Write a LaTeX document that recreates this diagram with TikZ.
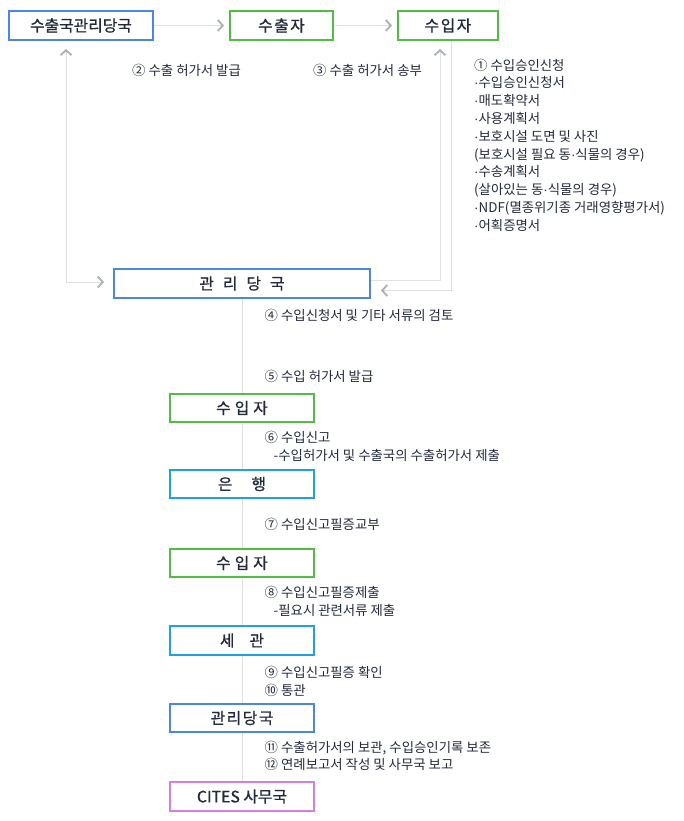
\documentclass[tikz,border=0pt]{standalone}
\usepackage{fontspec}
\setmainfont{Noto Sans CJK KR}
\newfontfamily\krh[FakeBold=0.8]{Noto Sans CJK KR}
\newfontfamily\latdot{Liberation Sans}
\newcommand{\md}{{\latdot ·}}
\usetikzlibrary{arrows.meta,calc}
\definecolor{bxblue}{RGB}{74,134,232}
\definecolor{bxgreen}{RGB}{80,190,65}
\definecolor{bxsky}{RGB}{30,160,235}
\definecolor{bxpurple}{RGB}{214,125,222}
\definecolor{lgray}{RGB}{224,224,224}
\definecolor{cgray}{RGB}{170,176,186}
\definecolor{txt}{RGB}{34,42,60}
\begin{document}
\begin{tikzpicture}[x=1pt,y=-1pt,
  box/.style={draw, line width=2pt, fill=white, inner sep=0pt,
    font=\krh\fontsize{15.8}{17}\selectfont, text=txt, minimum height=29pt},
  lbl/.style={anchor=base west, inner sep=0pt, font=\fontsize{13.4}{18}\selectfont, text=txt, align=left},
  conn/.style={draw=lgray, line width=1pt},
  chevtip/.tip={Straight Barb[length=5pt,width=11pt,line width=1.8pt,color=cgray]},
  chev/.style={-chevtip},
  chevboth/.style={chevtip-chevtip}
]
\useasboundingbox (0,0) rectangle (684,821);
\fill[white] (0,0) rectangle (684,821);

% top row
\node[box, draw=bxblue, minimum width=144pt] (A) at (81,25.5) {수출국관리당국};
\node[box, draw=bxgreen, minimum width=103pt] (B) at (281.5,25.5) {수\hspace{1.5pt}출\hspace{1.5pt}자};
\node[box, draw=bxgreen, minimum width=100pt] (C) at (448,25.5) {수\hspace{1.5pt}입\hspace{1.5pt}자};

% central column
\node[box, draw=bxblue, minimum width=256pt] (D) at (242,283.5) {관\hspace{9pt}리\hspace{9pt}당\hspace{9pt}국};
\node[box, draw=bxgreen, minimum width=144pt, minimum height=28pt] (E) at (242,408) {수\hspace{4pt}입\hspace{4pt}자};
\node[box, draw=bxsky, minimum width=144pt, minimum height=28pt] (F) at (242,484) {은\hspace{19pt}행};
\node[box, draw=bxgreen, minimum width=144pt, minimum height=28pt] (G) at (242,563) {수\hspace{4pt}입\hspace{4pt}자};
\node[box, draw=bxsky, minimum width=144pt] (H) at (242,640.5) {세\hspace{15pt}관};
\node[box, draw=bxblue, minimum width=144pt, minimum height=28pt] (I) at (242,718) {관\hspace{1.5pt}리\hspace{1.5pt}당\hspace{1.5pt}국};
\node[box, draw=bxpurple, minimum width=144pt] (J) at (242,796.5) {CITES 사무국};

% helper coordinates
\coordinate (lx) at (66,0);
\coordinate (rxa) at (440,0);
\coordinate (rxb) at (451,0);

% connectors
\draw[conn, chev, shorten >=5pt] (A) -- (B);
\draw[conn, chev, shorten >=5pt] (B) -- (C);
\draw[conn, chevboth, shorten <=8pt, shorten >=9pt] (A.south -| lx) |- ([yshift=1.5pt]D.west);
\draw[conn, chev, shorten >=8pt] ([yshift=3.5pt]D.east) -| (C.south -| rxa);
\draw[conn, chev, shorten >=10pt] (C.south -| rxb) |- ([yshift=-7pt]D.east);
\draw[conn] (D) -- (E);
\draw[conn] (E) -- (F);
\draw[conn] (F) -- (G);
\draw[conn] (G) -- (H);
\draw[conn] (H) -- (I);
\draw[conn] (I) -- (J);

% labels (anchor is the baseline of the last line)
\node[lbl] (L2) at (132,76) {② 수출 허가서 발급};
\node[lbl] (L3) at (313,76) {③ 수출 허가서 송부};
\node[lbl, font=\fontsize{13.4}{17.8}\selectfont] (L1) at (474,230.3) {① 수입승인신청\\\md 수입승인신청서\\\md 매도확약서\\\md 사용계획서\\\md 보호시설 도면 및 사진\\(보호시설 필요 동\md 식물의 경우)\\\md 수송계획서\\(살아있는 동\md 식물의 경우)\\\md NDF(멸종위기종 거래영향평가서)\\\md 어획증명서};
\node[lbl] (L4) at (264.5,320.5) {④ 수입신청서 및 기타 서류의 검토};
\node[lbl] (L5) at (264.5,381) {⑤ 수입 허가서 발급};
\node[lbl] (L6) at (264.5,460) {⑥ 수입신고\\\hspace*{9pt}-수입허가서 및 수출국의 수출허가서 제출};
\node[lbl] (L7) at (264.5,529) {⑦ 수입신고필증교부};
\node[lbl] (L8) at (264.5,615) {⑧ 수입신고필증제출\\\hspace*{9pt}-필요시 관련서류 제출};
\node[lbl] (L9) at (264.5,695) {⑨ 수입신고필증 확인\\⑩ 통관};
\node[lbl, font=\fontsize{13.4}{17}\selectfont] (L11) at (264.5,769) {⑪ 수출허가서의 보관, 수입승인기록 보존\\⑫ 연례보고서 작성 및 사무국 보고};
\end{tikzpicture}
\end{document}
